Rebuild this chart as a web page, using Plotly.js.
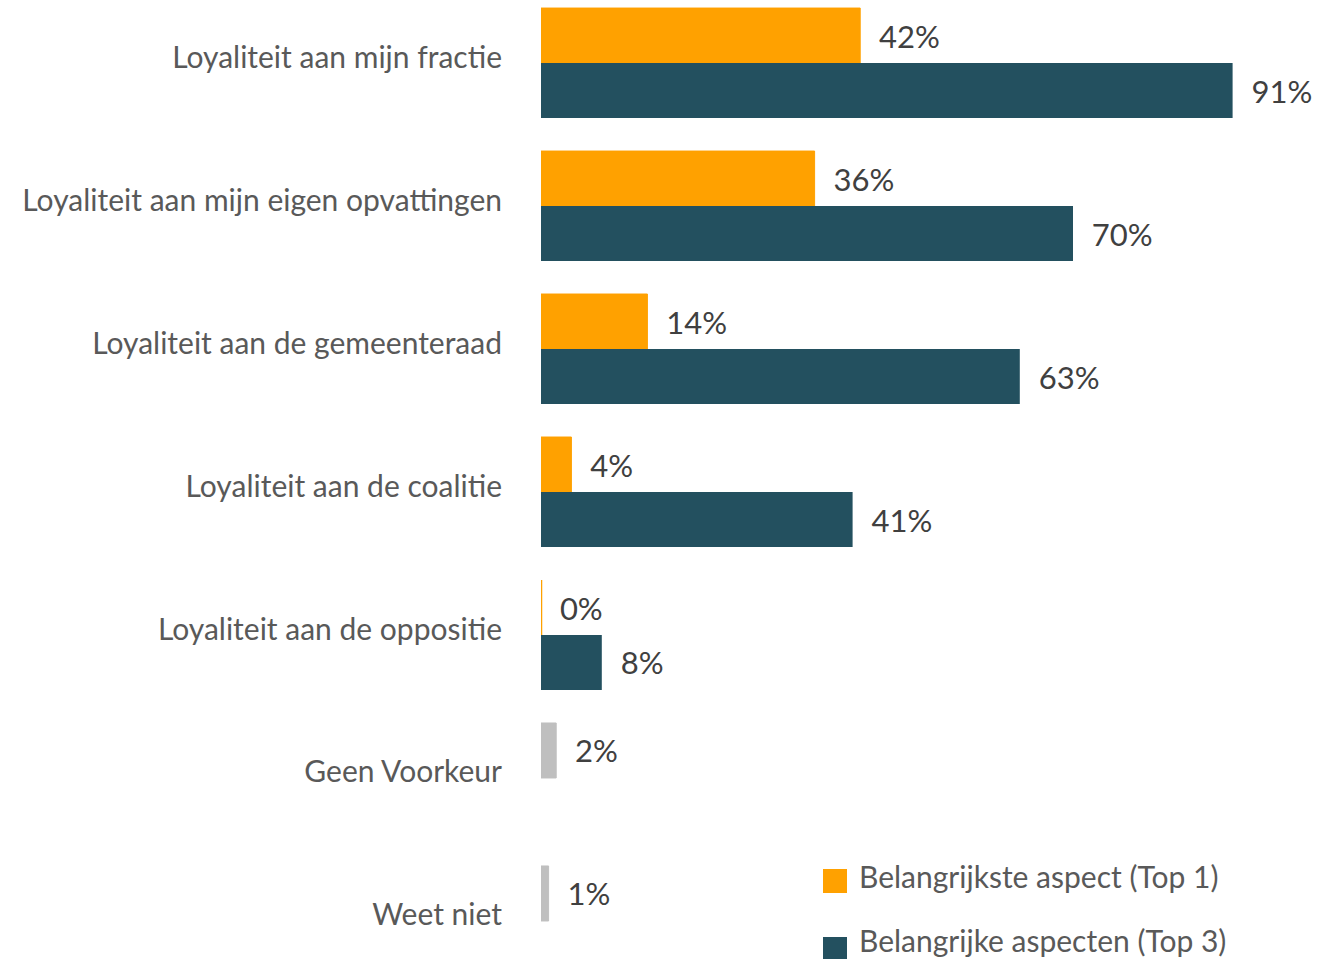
<!DOCTYPE html>
<html>
<head>
<meta charset="utf-8">
<script src="https://cdn.plot.ly/plotly-3.0.1.min.js"></script>
<style>
  html, body { margin: 0; padding: 0; background: #ffffff; }
  #chart { width: 1324px; height: 959px; }
</style>
</head>
<body>
<div id="chart"></div>
<script>
// ---- data ----
const categories = [
  'Loyaliteit aan mijn fractie',
  'Loyaliteit aan mijn eigen opvattingen',
  'Loyaliteit aan de gemeenteraad',
  'Loyaliteit aan de coalitie',
  'Loyaliteit aan de oppositie',
  'Geen Voorkeur',
  'Weet niet'
];
const top1Values = [42, 36, 14, 4, 0, 2, 1];
const top3Values = [91, 70, 63, 41, 8, null, null];
const otherAnswers = ['Geen Voorkeur', 'Weet niet'];
const seriesNames = ['Belangrijkste aspect (Top 1)', 'Belangrijke aspecten (Top 3)'];

// ---- styles ----
const ORANGE = '#FFA100';
const BLUE = '#23505F';
const GREY = '#BFBFBF';
const FONT = 'Lato, "Open Sans", sans-serif';

const top1Colors = categories.map(c => otherAnswers.includes(c) ? GREY : ORANGE);
const top1LineW = top1Values.map(v => v === 0 ? 2.5 : 1);

const W = 1324, H = 959;
const L = 541, R = 23;
const plotW = W - L - R;
function px(x) { return (x - L) / plotW; }
function py(y) { return 1 - y / H; }

const traces = [
  {
    type: 'bar', orientation: 'h', name: seriesNames[0],
    y: categories, x: top1Values,
    marker: { color: top1Colors, line: { color: top1Colors, width: top1LineW } },
    text: top1Values.map(v => '\u00a0\u00a0' + v + '%'),
    texttemplate: '%{text}',
    textposition: 'outside', cliponaxis: false, constraintext: 'none',
    textfont: { family: FONT, size: 31, color: '#404040' },
    hoverinfo: 'x+y', showlegend: false
  },
  {
    type: 'bar', orientation: 'h', name: seriesNames[1],
    y: categories, x: top3Values,
    marker: { color: BLUE },
    text: top3Values.map(v => v === null ? '' : '\u00a0\u00a0' + v + '%'),
    texttemplate: '%{text}',
    textposition: 'outside', cliponaxis: false, constraintext: 'none',
    textfont: { family: FONT, size: 31, color: '#404040' },
    hoverinfo: 'x+y', showlegend: false
  }
];

const layout = {
  width: W, height: H,
  margin: { l: L, r: R, t: 0, b: 0, pad: 0 },
  paper_bgcolor: '#ffffff', plot_bgcolor: '#ffffff',
  barmode: 'group', bargap: 0.2308, bargroupgap: 0,
  showlegend: false,
  font: { family: FONT, color: '#595959' },
  xaxis: {
    range: [0, 100], showticklabels: false, showgrid: false,
    zeroline: false, showline: false, fixedrange: true
  },
  yaxis: {
    type: 'category',
    range: [6.266, -0.441],
    showgrid: false, zeroline: false, showline: false, ticks: '',
    ticklabelstandoff: 38,
    ticklabelshift: 6,
    tickfont: { family: FONT, size: 30, color: '#595959' },
    automargin: false, fixedrange: true
  },
  shapes: [
    { type: 'rect', xref: 'paper', yref: 'paper',
      x0: px(823), x1: px(847), y0: py(893), y1: py(869),
      fillcolor: ORANGE, line: { width: 0 } },
    { type: 'rect', xref: 'paper', yref: 'paper',
      x0: px(823), x1: px(847), y0: py(961), y1: py(937),
      fillcolor: BLUE, line: { width: 0 } }
  ],
  annotations: [
    { xref: 'paper', yref: 'paper', x: px(857), y: py(876),
      xanchor: 'left', yanchor: 'middle', showarrow: false,
      text: seriesNames[0], font: { family: FONT, size: 30, color: '#595959' } },
    { xref: 'paper', yref: 'paper', x: px(857), y: py(940),
      xanchor: 'left', yanchor: 'middle', showarrow: false,
      text: seriesNames[1], font: { family: FONT, size: 30, color: '#595959' } }
  ]
};

Plotly.newPlot('chart', traces, layout, { displayModeBar: false, staticPlot: true });
</script>
</body>
</html>
